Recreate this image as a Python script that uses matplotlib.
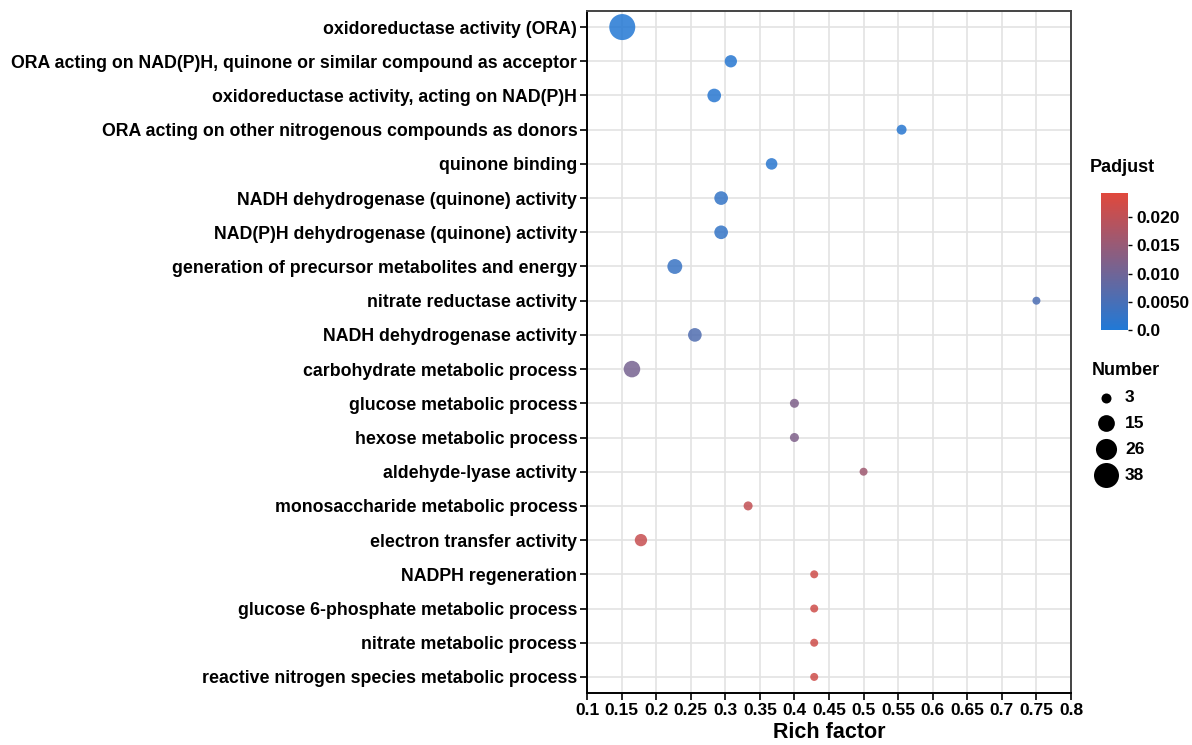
import numpy as np
import matplotlib as mpl
mpl.use("Agg")
import matplotlib.pyplot as plt
from matplotlib.colors import LinearSegmentedColormap, Normalize

plt.rcParams['font.family'] = ['Liberation Sans', 'DejaVu Sans']
plt.rcParams['font.weight'] = 'bold'

# datos
terminos = [
    "oxidoreductase activity (ORA)",
    "ORA acting on NAD(P)H, quinone or similar compound as acceptor",
    "oxidoreductase activity, acting on NAD(P)H",
    "ORA acting on other nitrogenous compounds as donors",
    "quinone binding",
    "NADH dehydrogenase (quinone) activity",
    "NAD(P)H dehydrogenase (quinone) activity",
    "generation of precursor metabolites and energy",
    "nitrate reductase activity",
    "NADH dehydrogenase activity",
    "carbohydrate metabolic process",
    "glucose metabolic process",
    "hexose metabolic process",
    "aldehyde-lyase activity",
    "monosaccharide metabolic process",
    "electron transfer activity",
    "NADPH regeneration",
    "glucose 6-phosphate metabolic process",
    "nitrate metabolic process",
    "reactive nitrogen species metabolic process",
]
rich_factor = [0.151, 0.308, 0.284, 0.555, 0.367, 0.294, 0.294, 0.227, 0.75, 0.256,
               0.165, 0.40, 0.40, 0.50, 0.333, 0.178, 0.4286, 0.4286, 0.4286, 0.4286]
number = [38, 8, 10, 5, 7, 10, 10, 12, 3, 10, 15, 4, 4, 3, 4, 8, 3, 3, 3, 3]
padjust = [0.0003, 0.0008, 0.0009, 0.0010, 0.0012, 0.0025, 0.0025, 0.0030, 0.0055, 0.0060,
           0.0110, 0.0120, 0.0120, 0.0160, 0.0205, 0.0210, 0.0220, 0.0220, 0.0220, 0.0220]

leg_numeros = [3, 15, 26, 38]
cb_ticks = [0.0, 0.005, 0.010, 0.015, 0.020]
cb_labels = ["0.0", "0.0050", "0.010", "0.015", "0.020"]
x_ticks = np.round(np.arange(0.1, 0.801, 0.05), 2)


def tam(n):
    # diametro en px -> area en pt^2
    d = np.sqrt(64 + 17.5 * (np.asarray(n) - 3))
    return (d * 0.72) ** 2


def tam_leg(n):
    # la leyenda se ve algo mas grande en los puntos chicos
    d = np.sqrt(100 + 15 * (np.asarray(n) - 3))
    return (d * 0.72) ** 2


cmap = LinearSegmentedColormap.from_list("pad", ["#2179d6", "#e0483c"])
norm = Normalize(vmin=0.0, vmax=0.0243)

fig = plt.figure(figsize=(11.92, 7.45), dpi=100)
ax = fig.add_axes([587/1192, 1-693/745, 484/1192, 682/745])

y = np.arange(len(terminos))[::-1]
ax.scatter(rich_factor, y, s=tam(number), c=padjust, cmap=cmap, norm=norm,
           alpha=0.85, linewidths=0, zorder=3)

ax.set_xlim(0.1, 0.8)
ax.set_ylim(-0.47, len(terminos) - 0.53)
ax.set_xticks(x_ticks)
ax.set_xticklabels([('%g' % v) for v in x_ticks], fontsize=12.5, fontweight='bold')
ax.set_yticks(y)
ax.set_yticklabels(terminos, fontsize=12.8, fontweight='bold')
ax.set_xlabel('Rich factor', fontsize=15.5, fontweight='bold', labelpad=3)
ax.grid(True, color='#e3e3e3', linewidth=1.2, zorder=0)
ax.set_axisbelow(True)
ax.tick_params(direction='out', length=5, width=1.2, color='black', pad=2)
for lado in ['left', 'bottom']:
    ax.spines[lado].set_linewidth(1.4)
    ax.spines[lado].set_color('black')
for lado in ['top', 'right']:
    ax.spines[lado].set_linewidth(1.4)
    ax.spines[lado].set_color('#444444')

# barra de color
cax = fig.add_axes([1101/1192, 1-330/745, 27/1192, 137/745])
cb = mpl.colorbar.ColorbarBase(cax, cmap=cmap, norm=norm)
cb.outline.set_visible(False)
cb.set_ticks(cb_ticks)
cb.set_ticklabels(cb_labels)
cax.tick_params(length=3, width=1, labelsize=12.5, pad=3)
for t in cax.get_yticklabels():
    t.set_fontweight('bold')
fig.text(1090/1192, 1-168/745, 'Padjust', fontsize=13, fontweight='bold', va='center')

# leyenda de tamaños
handles = [ax.scatter([], [], s=tam_leg(n), c='black', linewidths=0) for n in leg_numeros]
leg = fig.legend(handles, [str(n) for n in leg_numeros], loc='upper left',
                 bbox_to_anchor=(1080/1192, 1-350/745), frameon=False,
                 title='Number', fontsize=12.5, title_fontsize=13,
                 labelspacing=0.62, handletextpad=0.3, borderpad=0.2,
                 handlelength=1.6)
leg._legend_box.align = 'left'
leg.get_title().set_fontweight('bold')
for t in leg.get_texts():
    t.set_fontweight('bold')

fig.savefig('out.png', dpi=100)
